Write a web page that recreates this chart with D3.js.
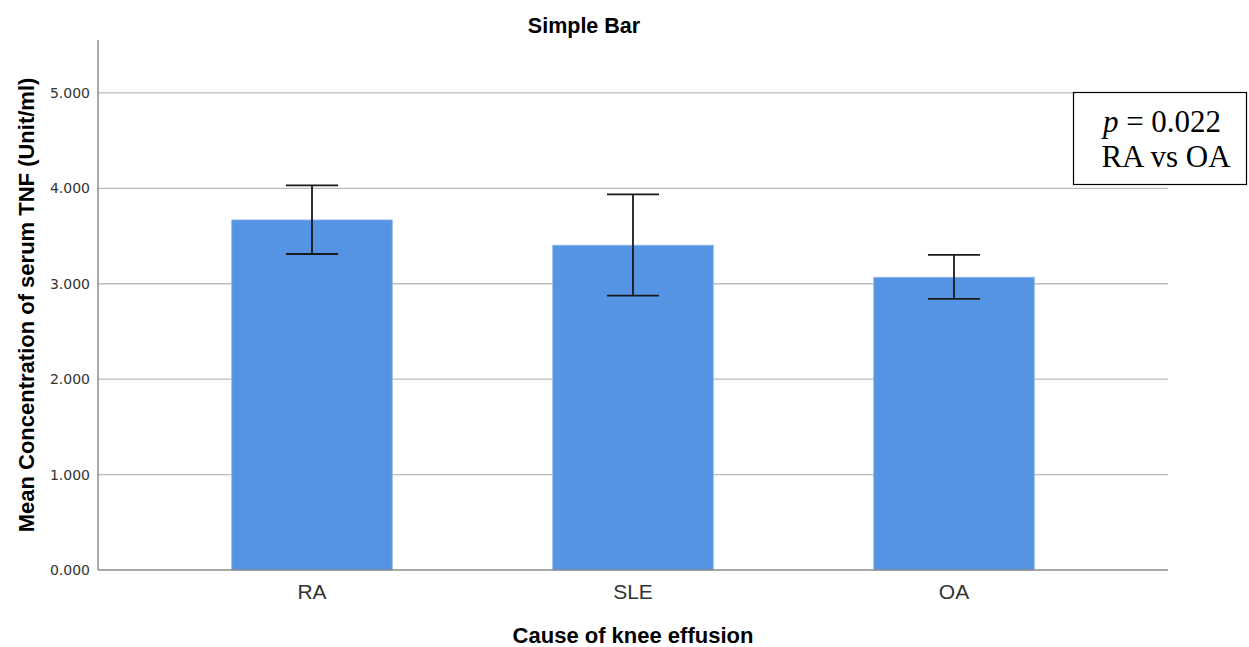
<!DOCTYPE html>
<html><head><meta charset="utf-8">
<script src="https://cdn.jsdelivr.net/npm/d3@7"></script>
<style>body{margin:0;background:#fff;} svg{display:block;}</style>
</head><body>
<svg id="c" width="1249" height="647"></svg>
<script>
const categories = ["RA", "SLE", "OA"];
const means = [3.669, 3.404, 3.068];
const ciLow = [3.312, 2.875, 2.841];
const ciHigh = [4.032, 3.938, 3.302];
const yTicks = [0, 1, 2, 3, 4, 5];

(function () {
const svg = d3.select("#c");
const pl = 98, pr = 1168, pt = 40, pb = 570;
const y = d3.scaleLinear().domain([0, 5.555]).range([pb, pt]);
const x = d3.scaleBand().domain(categories).range([pl, pr]).paddingInner(0.5).paddingOuter(0.4167);
const sans = "Liberation Sans, Arial, sans-serif";

// gridlines
svg.append("g").selectAll("line").data(yTicks.filter(d => d > 0)).join("line")
  .attr("x1", pl).attr("x2", pr).attr("y1", d => y(d)).attr("y2", d => y(d))
  .attr("stroke", "#bdbdbd").attr("stroke-width", 1.3);

// y tick labels
svg.append("g").selectAll("text").data(yTicks).join("text")
  .attr("x", 90).attr("y", d => y(d)).attr("dy", "0.36em")
  .attr("text-anchor", "end").attr("font-family", "DejaVu Sans, sans-serif")
  .attr("font-size", 14).attr("fill", "#333").text(d => d3.format(".3f")(d));

// bars
svg.append("g").selectAll("rect").data(categories).join("rect")
  .attr("x", d => x(d)).attr("width", x.bandwidth())
  .attr("y", (d, i) => y(means[i])).attr("height", (d, i) => y(0) - y(means[i]))
  .attr("fill", "#5594e2").attr("stroke", "#8ab4ec").attr("stroke-width", 0.8);

// error bars
const eb = svg.append("g").attr("stroke", "#1a1a1a").attr("stroke-width", 1.8);
categories.forEach((c, i) => {
  const cx = x(c) + x.bandwidth() / 2;
  eb.append("line").attr("x1", cx).attr("x2", cx).attr("y1", y(ciHigh[i])).attr("y2", y(ciLow[i]));
  [ciHigh[i], ciLow[i]].forEach(v => eb.append("line").attr("x1", cx - 26).attr("x2", cx + 26).attr("y1", y(v)).attr("y2", y(v)));
});

// axes lines
svg.append("line").attr("x1", pl).attr("x2", pl).attr("y1", pt).attr("y2", pb).attr("stroke", "#8c8c8c").attr("stroke-width", 1.5);
svg.append("line").attr("x1", pl).attr("x2", pr).attr("y1", pb).attr("y2", pb).attr("stroke", "#8c8c8c").attr("stroke-width", 1.5);

// x tick labels
svg.append("g").selectAll("text").data(categories).join("text")
  .attr("x", d => x(d) + x.bandwidth() / 2).attr("y", 599)
  .attr("text-anchor", "middle").attr("font-family", sans)
  .attr("font-size", 21).attr("fill", "#333").text(d => d);

// titles
svg.append("text").attr("x", 584).attr("y", 33).attr("text-anchor", "middle")
  .attr("font-family", sans).attr("font-weight", "bold").attr("font-size", 21.5).text("Simple Bar");
svg.append("text").attr("x", 633).attr("y", 643).attr("text-anchor", "middle")
  .attr("font-family", sans).attr("font-weight", "bold").attr("font-size", 22).text("Cause of knee effusion");
svg.append("text").attr("transform", "translate(34,305) rotate(-90)").attr("text-anchor", "middle")
  .attr("font-family", sans).attr("font-weight", "bold").attr("font-size", 22).text("Mean Concentration of serum TNF (Unit/ml)");

// annotation box
svg.append("rect").attr("x", 1073.5).attr("y", 92.5).attr("width", 173).attr("height", 92).attr("fill", "#fff").attr("stroke", "#000").attr("stroke-width", 1.2);
const t1 = svg.append("text").attr("x", 1162).attr("y", 132).attr("text-anchor", "middle")
  .attr("font-family", "Liberation Serif, Times New Roman, serif").attr("font-size", 31);
t1.append("tspan").attr("font-style", "italic").text("p");
t1.append("tspan").text(" = 0.022");
svg.append("text").attr("x", 1166).attr("y", 167).attr("text-anchor", "middle")
  .attr("font-family", "Liberation Serif, Times New Roman, serif").attr("font-size", 31).text("RA vs OA");
})();
</script>
</body></html>
